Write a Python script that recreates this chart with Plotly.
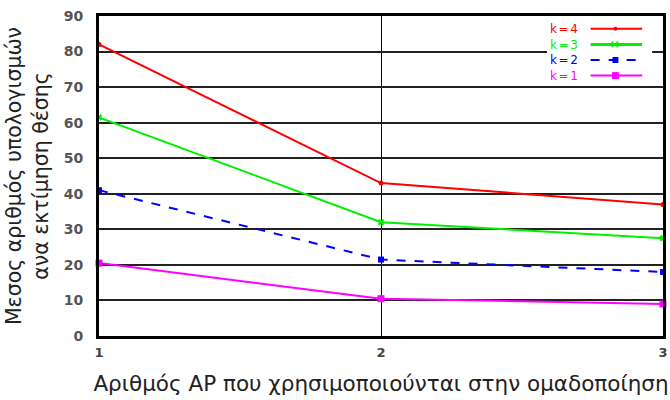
import plotly.graph_objects as go

# Number of APs used in clustering
ap_counts = [1, 2, 3]

# Mean number of computations per position estimate, for each k
series_names = ["k=4", "k=3", "k=2", "k=1"]
k4_values = [82, 43, 37]
k3_values = [61.5, 32, 27.5]
k2_values = [41, 21.5, 18]
k1_values = [20.5, 10.5, 9]

y_ticks = [0, 10, 20, 30, 40, 50, 60, 70, 80, 90]

colors = ["#ff0000", "#00f000", "#0000ff", "#ff00ff"]
dashes = ["solid", "solid", "dash", "solid"]
symbols = ["circle", "x", "square", "square"]
msizes = [5, 6, 6, 7]

values = [k4_values, k3_values, k2_values, k1_values]

FONT = "DejaVu Sans"

fig = go.Figure()
for name, vals, c, d, s, m in zip(series_names, values, colors, dashes, symbols, msizes):
    fig.add_trace(go.Scatter(
        x=ap_counts, y=vals, name=name, mode="lines+markers",
        line=dict(color=c, width=2, dash=d),
        marker=dict(color=c, symbol=s, size=m, line=dict(width=0)),
        cliponaxis=False, showlegend=False,
    ))

# Custom legend: labels on the left, line samples on the right
L, R, T, B = 99, 668, 16, 336
def px(x):
    return (x - L) / (R - L)
def py(y):
    return (B - y) / (B - T)

shapes = [dict(type="rect", xref="paper", yref="paper",
               x0=px(551), x1=px(657), y0=py(84), y1=py(19),
               fillcolor="white", line=dict(width=0), layer="above")]

legend_size = 12
legend_text = "<br>".join(
    f"<span style='color:{c};letter-spacing:1.6px'>{n}</span>"
    for n, c in zip(series_names, colors))
annotations = [dict(xref="paper", yref="paper", x=px(553), y=py(21),
                    text=legend_text, showarrow=False, align="left",
                    xanchor="left", yanchor="top", borderpad=0,
                    font=dict(family=FONT, size=legend_size))]

line_h = legend_size * 1.3
rows = [21 + line_h * (i + 0.5) for i in range(4)]
for name, c, d, yy in zip(series_names, colors, dashes, rows):
    shapes.append(dict(type="line", xref="paper", yref="paper",
                       x0=px(595), x1=px(647), y0=py(yy), y1=py(yy),
                       line=dict(color=c, width=3 if name == "k=3" else 2, dash=d),
                       layer="above"))
    if name == "k=4":
        shapes.append(dict(type="circle", xref="paper", yref="paper",
                           x0=px(618), x1=px(622), y0=py(yy + 2), y1=py(yy - 2),
                           fillcolor=c, line=dict(width=0), layer="above"))
    elif name == "k=3":
        for xx in (617, 622):
            shapes.append(dict(type="line", xref="paper", yref="paper",
                               x0=px(xx), x1=px(xx), y0=py(yy + 3), y1=py(yy - 3),
                               line=dict(color=c, width=2), layer="above"))
    else:
        h = 3 if name == "k=2" else 3.5
        shapes.append(dict(type="rect", xref="paper", yref="paper",
                           x0=px(620 - h), x1=px(620 + h), y0=py(yy + h), y1=py(yy - h),
                           fillcolor=c, line=dict(width=0), layer="above"))

fig.update_layout(
    width=670, height=400,
    margin=dict(l=L, r=670 - R, t=T, b=400 - B),
    plot_bgcolor="white", paper_bgcolor="white",
    font=dict(family=FONT, color="#222"),
    shapes=shapes, annotations=annotations,
    showlegend=False,
)
fig.update_xaxes(
    range=[1, 3], tickvals=ap_counts, ticktext=[str(v) for v in ap_counts],
    showgrid=True, gridcolor="black", gridwidth=1,
    showline=True, linecolor="black", linewidth=3, mirror=True,
    ticks="", ticklabelstandoff=2,
    tickfont=dict(size=13, color="#444", family=FONT, weight="bold"),
    title=dict(text="Αριθμός AP που χρησιμοποιούνται στην ομαδοποίηση",
               font=dict(size=21.5, color="#222"), standoff=18),
    zeroline=False,
)
fig.update_yaxes(
    range=[0, 90], tickvals=y_ticks,
    showgrid=True, gridcolor="#222", gridwidth=2,
    showline=True, linecolor="black", linewidth=3, mirror=True,
    ticks="", ticklabelstandoff=10,
    tickfont=dict(size=14, color="#555", family=FONT, weight="bold"),
    title=dict(text="Μεσος αριθμός υπολογισμών<br>ανα εκτίμηση θέσης",
               font=dict(size=20.5, color="#222"), standoff=10),
    zeroline=False,
)

fig.write_html("out.html")
